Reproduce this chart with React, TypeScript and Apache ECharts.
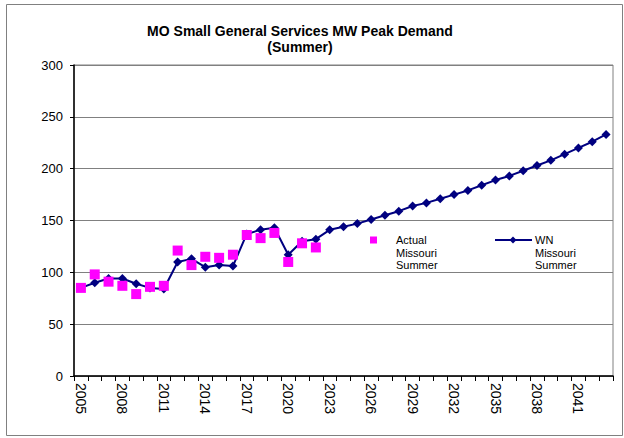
import React, { useEffect, useRef } from "react";
import * as echarts from "echarts";

const years: string[] = [];
for (let y = 2005; y <= 2043; y++) years.push(String(y));

const actualMissouriSummer: (number | null)[] = [
  85, 98, 91, 87, 79, 86, 87, 121, 107, 115, 114, 117, 136, 133, 138, 110, 128, 124,
];

const wnMissouriSummer: number[] = [
  85, 90, 94, 94, 89, 85, 84, 110, 113, 105, 107, 106, 137, 141, 143, 117, 130, 132,
  141, 144, 147, 151, 155, 159, 164, 167, 171, 175, 179, 184, 189, 193, 198, 203,
  208, 214, 220, 226, 233,
];

const titleLines = ["MO Small General Services MW Peak Demand", "(Summer)"];
const legendActual = "Actual\nMissouri\nSummer";
const legendWN = "WN\nMissouri\nSummer";

const FONT = "'Liberation Sans', Arial, sans-serif";

export default function App() {
  const ref = useRef<HTMLDivElement>(null);
  useEffect(() => {
    if (!ref.current) return;
    const chart = echarts.init(ref.current, undefined, { renderer: "svg" });
    chart.setOption({
      animation: false,
      backgroundColor: "#ffffff",
      textStyle: { fontFamily: FONT },
      grid: {
        left: 74,
        right: 11,
        top: 65,
        bottom: 62,
        show: true,
        borderColor: "#808080",
        borderWidth: 1,
        backgroundColor: "transparent",
      },
      xAxis: {
        type: "category",
        data: years,
        boundaryGap: true,
        axisLine: { show: true, lineStyle: { color: "#000000", width: 1.5 } },
        axisTick: { show: true, interval: 0, length: 5, lineStyle: { color: "#000000" } },
        axisLabel: {
          interval: 2,
          rotate: -90,
          fontSize: 14,
          color: "#000000",
          fontFamily: FONT,
          margin: 7,
        },
        splitLine: { show: false },
      },
      yAxis: {
        type: "value",
        min: 0,
        max: 300,
        interval: 50,
        axisLine: { show: true, lineStyle: { color: "#000000", width: 1.5 } },
        axisTick: { show: true, length: 4, lineStyle: { color: "#000000" } },
        axisLabel: { fontSize: 13, color: "#000000", fontFamily: FONT, margin: 11 },
        splitLine: { show: true, lineStyle: { color: "#808080", width: 1 } },
      },
      series: [
        {
          name: "WN Missouri Summer",
          type: "line",
          data: wnMissouriSummer,
          symbol: "diamond",
          symbolSize: 9,
          showAllSymbol: true,
          lineStyle: { color: "#000080", width: 2 },
          itemStyle: { color: "#000080" },
          z: 2,
        },
        {
          name: "Actual Missouri Summer",
          type: "line",
          data: actualMissouriSummer,
          symbol: "rect",
          symbolSize: 10,
          showAllSymbol: true,
          lineStyle: { width: 0, opacity: 0 },
          itemStyle: { color: "#FF00FF" },
          z: 3,
        },
      ],
      graphic: [
        {
          type: "rect",
          shape: { x: 6.5, y: 4.5, width: 616, height: 431 },
          style: { fill: "none", stroke: "#808080", lineWidth: 1 },
          silent: true,
        },
        {
          type: "text",
          x: 300,
          y: 31,
          style: {
            text: titleLines[0],
            textAlign: "center",
            textVerticalAlign: "middle",
            font: `bold 14px ${FONT}`,
            fill: "#000000",
          },
        },
        {
          type: "text",
          x: 300,
          y: 47,
          style: {
            text: titleLines[1],
            textAlign: "center",
            textVerticalAlign: "middle",
            font: `bold 14px ${FONT}`,
            fill: "#000000",
          },
        },
        {
          type: "rect",
          shape: { x: 370, y: 236.5, width: 7, height: 7 },
          style: { fill: "#FF00FF" },
        },
        {
          type: "text",
          x: 396,
          y: 234,
          style: {
            text: legendActual,
            font: `11px ${FONT}`,
            lineHeight: 12.5,
            fill: "#000000",
          },
        },
        {
          type: "line",
          shape: { x1: 495, y1: 240, x2: 532, y2: 240 },
          style: { stroke: "#000080", lineWidth: 2 },
        },
        {
          type: "polygon",
          shape: { points: [[513, 236.5], [516.5, 240], [513, 243.5], [509.5, 240]] },
          style: { fill: "#000080" },
        },
        {
          type: "text",
          x: 535,
          y: 234,
          style: {
            text: legendWN,
            font: `11px ${FONT}`,
            lineHeight: 12.5,
            fill: "#000000",
          },
        },
      ],
    });
    return () => chart.dispose();
  }, []);
  return (
    <div
      ref={ref}
      style={{ position: "absolute", left: 0, top: 0, width: 624, height: 438 }}
    />
  );
}
